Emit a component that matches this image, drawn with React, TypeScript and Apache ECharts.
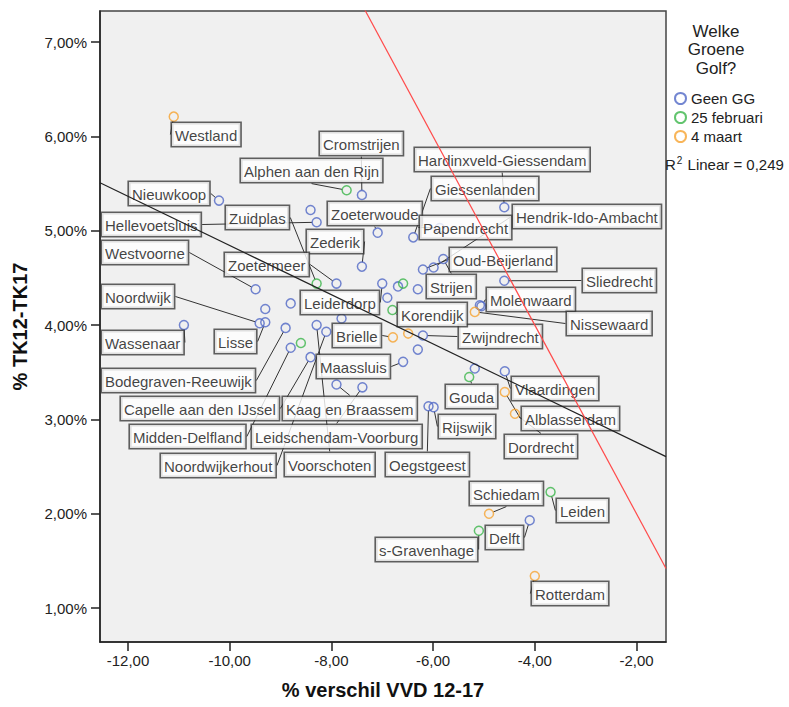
import React, { useEffect, useRef } from "react";
import * as echarts from "echarts";

// ---- data ----
const groupNames = ["Geen GG", "25 februari", "4 maart"];
const groupColors = ["#5068c6", "#3bb54a", "#f6a22f"];

const municipalities = [
  "Westland", "Cromstrijen", "Alphen aan den Rijn", "Hardinxveld-Giessendam", "Giessenlanden",
  "Nieuwkoop", "Zuidplas", "Zoeterwoude", "Hendrik-Ido-Ambacht", "Hellevoetsluis",
  "Papendrecht", "Zederik", "Westvoorne", "Oud-Beijerland", "Zoetermeer",
  "Sliedrecht", "Strijen", "Noordwijk", "Leiderdorp", "Molenwaard",
  "Korendijk", "Nissewaard", "Wassenaar", "Lisse", "Brielle",
  "Zwijndrecht", "Maassluis", "Bodegraven-Reeuwijk", "Vlaardingen", "Gouda",
  "Alblasserdam", "Capelle aan den IJssel", "Kaag en Braassem", "Rijswijk", "Midden-Delfland",
  "Leidschendam-Voorburg", "Dordrecht", "Noordwijkerhout", "Voorschoten", "Oegstgeest",
  "Schiedam", "Leiden", "Delft", "s-Gravenhage", "Rotterdam",
  "", "", "", "", "", "", "", "", "", "", "", "", "",
];

// % verschil VVD 12-17
const vvdChange = [
  -11.10, -7.40, -7.70, -4.60, -6.39,
  -10.21, -8.29, -7.09, -5.99, -8.29,
  -5.87, -7.40, -9.49, -6.20, -7.90,
  -4.60, -5.80, -9.41, -7.00, -5.05,
  -6.80, -5.18, -10.90, -9.30, -6.79,
  -6.20, -6.59, -8.90, -4.59, -5.29,
  -4.59, -8.41, -7.90, -5.99, -8.80,
  -7.39, -4.39, -8.10, -8.29, -6.09,
  -4.90, -3.69, -4.10, -5.10, -4.00,
  -8.41, -6.69, -6.59, -6.30, -6.90, -8.80, -9.30, -7.80, -6.49, -8.60, -6.30, -5.08, -5.18,
];

// % TK12-TK17
const tkChange = [
  6.21, 5.38, 5.43, 5.25, 4.93,
  5.32, 4.44, 4.98, 4.61, 5.09,
  5.03, 4.62, 4.38, 4.59, 4.44,
  4.47, 4.70, 4.02, 4.44, 4.20,
  4.16, 4.14, 4.00, 4.03, 3.87,
  3.89, 3.61, 3.97, 3.51, 3.45,
  3.29, 3.66, 3.37, 3.13, 3.76,
  3.34, 3.06, 3.93, 4.00, 3.14,
  2.00, 2.23, 1.93, 1.82, 1.34,
  5.22, 4.41, 4.44, 4.38, 4.29, 4.23, 4.17, 4.07, 3.91, 3.81, 3.74, 4.21, 3.54,
];

// 0 = Geen GG, 1 = 25 februari, 2 = 4 maart
const groupIndex = [
  2, 0, 1, 0, 0,
  0, 1, 0, 0, 0,
  0, 0, 0, 0, 0,
  0, 0, 0, 0, 0,
  1, 2, 0, 0, 2,
  0, 0, 0, 0, 1,
  2, 0, 0, 0, 0,
  0, 2, 0, 0, 0,
  2, 1, 0, 1, 2,
  0, 0, 1, 0, 0, 0, 0, 0, 2, 1, 0, 0, 0,
];

const xTicks = [-12, -10, -8, -6, -4, -2];
const yTicks = [1, 2, 3, 4, 5, 6, 7];

const legendTitleLines = ["Welke", "Groene", "Golf?"];

const X_MIN = -12.55;
const X_MAX = -1.42;
const Y_MIN = 0.64;
const Y_MAX = 7.33;

// Linear fit, R2 = 0,249
const FIT_INTERCEPT = 2.235;
const FIT_SLOPE = -0.2609;
const R2_TEXT = "0,249";
// reference line y = -x
const REF_INTERCEPT = 0;
const REF_SLOPE = -1;

// ---- layout (label box top-left corners, px) ----
const labelBoxes: ([number, number] | null)[] = [
  [172, 123], [320, 132], [241, 159], [415, 148], [432, 177],
  [129, 182], [226, 206], [328, 202], [513, 205], [102, 213],
  [420, 216], [307, 230], [102, 241], [450, 248], [225, 253],
  [583, 269], [427, 275], [102, 285], [301, 291], [487, 288],
  [398, 303], [567, 312], [102, 331], [215, 330], [333, 324],
  [459, 325], [317, 355], [102, 369], [512, 377], [446, 385],
  [522, 407], [121, 397], [283, 397], [439, 415], [130, 425],
  [252, 425], [505, 435], [161, 454], [285, 453], [386, 453],
  [470, 482], [557, 499], [486, 526], [376, 538], [532, 582],
  null, null, null, null, null, null, null, null, null, null, null, null, null,
];

const FONT = '"Liberation Sans", Arial, Helvetica, sans-serif';
const fmt = (v: number) => v.toFixed(2).replace(".", ",");

export default function App() {
  const ref = useRef<HTMLDivElement>(null);

  useEffect(() => {
    if (!ref.current) return;
    const chart = echarts.init(ref.current, undefined, { renderer: "svg" });

    const scatterSeries = groupNames.map((g, gi) => {
      const idx = municipalities.map((_, i) => i).filter((i) => groupIndex[i] === gi);
      return {
        type: "scatter",
        name: g,
        z: 2,
        symbol: "circle",
        symbolSize: 9,
        itemStyle: { color: "rgba(0,0,0,0)", borderColor: groupColors[gi], borderWidth: 1.5 },
        emphasis: { disabled: true },
        data: idx.map((i) => ({
          value: [vvdChange[i], tkChange[i]],
          name: municipalities[i],
          label: { show: !!municipalities[i] },
          labelLine: { show: !!municipalities[i] },
        })),
        label: {
          show: true,
          formatter: "{b}",
          fontFamily: FONT,
          fontSize: 15,
          lineHeight: 18,
          color: "#111",
          backgroundColor: "#fff",
          borderColor: "#3a3a3a",
          borderWidth: 1.6,
          padding: [3, 3, 2, 3],
        },
        labelLine: { show: true, lineStyle: { color: "#333", width: 1 } },
        labelLayout: (p: any) => {
          const i = idx[p.dataIndex];
          const b = labelBoxes[i];
          if (!b) return {};
          return { x: b[0], y: b[1], align: "left", verticalAlign: "top" };
        },
      };
    });

    const fitData = [X_MIN, X_MAX].map((x) => [x, FIT_INTERCEPT + FIT_SLOPE * x]);
    const refData = [X_MIN, X_MAX].map((x) => [x, REF_INTERCEPT + REF_SLOPE * x]);

    const titleGraphics = legendTitleLines.map((t, k) => ({
      type: "text",
      x: 716,
      y: 31.5 + k * 18.4,
      style: {
        text: t,
        align: "center",
        verticalAlign: "middle",
        textAlign: "center",
        textVerticalAlign: "middle",
        font: `17px ${FONT}`,
        fill: "#222",
      },
    }));

    chart.setOption({
      animation: false,
      backgroundColor: "#fff",
      grid: {
        left: 100,
        top: 11,
        width: 566,
        height: 631,
        show: true,
        backgroundColor: "#f0f0f0",
        borderColor: "#444",
        borderWidth: 1.5,
        containLabel: false,
      },
      legend: {
        data: groupNames,
        orient: "vertical",
        left: 669,
        top: 86,
        icon: "circle",
        itemWidth: 11,
        itemHeight: 11,
        itemGap: 4,
        textStyle: { fontFamily: FONT, fontSize: 15, color: "#222" },
        selectedMode: false,
      },
      xAxis: {
        type: "value",
        min: X_MIN,
        max: X_MAX,
        name: "% verschil VVD 12-17",
        nameLocation: "middle",
        nameGap: 38,
        nameTextStyle: { fontFamily: FONT, fontSize: 20, fontWeight: "bold", color: "#111" },
        splitLine: { show: false },
        axisLine: { show: true, onZero: false, lineStyle: { color: "#222", width: 1.5 } },
        axisTick: { show: true, length: 9, customValues: xTicks, lineStyle: { color: "#222", width: 1.5 } },
        axisLabel: {
          customValues: xTicks,
          formatter: (v: number) => fmt(v),
          fontFamily: FONT,
          fontSize: 15,
          color: "#222",
          margin: 11,
        },
      },
      yAxis: {
        type: "value",
        min: Y_MIN,
        max: Y_MAX,
        name: "% TK12-TK17",
        nameLocation: "middle",
        nameGap: 70,
        nameTextStyle: { fontFamily: FONT, fontSize: 20, fontWeight: "bold", color: "#111" },
        splitLine: { show: false },
        axisLine: { show: true, onZero: false, lineStyle: { color: "#222", width: 1.5 } },
        axisTick: { show: true, length: 9, customValues: yTicks, lineStyle: { color: "#222", width: 1.5 } },
        axisLabel: {
          customValues: yTicks,
          formatter: (v: number) => fmt(v) + "%",
          fontFamily: FONT,
          fontSize: 15,
          color: "#222",
          margin: 13,
        },
      },
      graphic: [
        ...titleGraphics,
        {
          type: "text",
          x: 665,
          y: 164,
          style: {
            text: "{a|R}{s|2}{a| Linear = " + R2_TEXT + "}",
            verticalAlign: "middle",
            textVerticalAlign: "middle",
            rich: {
              a: { fontFamily: FONT, fontSize: 15, fill: "#222", color: "#222" },
              s: { fontFamily: FONT, fontSize: 10, fill: "#222", color: "#222", padding: [0, 1, 8, 1] },
            },
          },
        },
      ],
      series: [
        ...scatterSeries,
        {
          type: "line",
          name: "Linear",
          z: 10,
          data: fitData,
          showSymbol: false,
          symbol: "none",
          clip: true,
          lineStyle: { color: "#222", width: 1.2 },
          emphasis: { disabled: true },
          silent: true,
        },
        {
          type: "line",
          name: "Referentie",
          z: 10,
          data: refData,
          showSymbol: false,
          symbol: "none",
          clip: true,
          lineStyle: { color: "#ff4a4a", width: 1.2 },
          emphasis: { disabled: true },
          silent: true,
        },
      ],
    });

    return () => chart.dispose();
  }, []);

  return (
    <div
      ref={ref}
      style={{ position: "absolute", left: 0, top: 0, width: 789, height: 707 }}
    />
  );
}
